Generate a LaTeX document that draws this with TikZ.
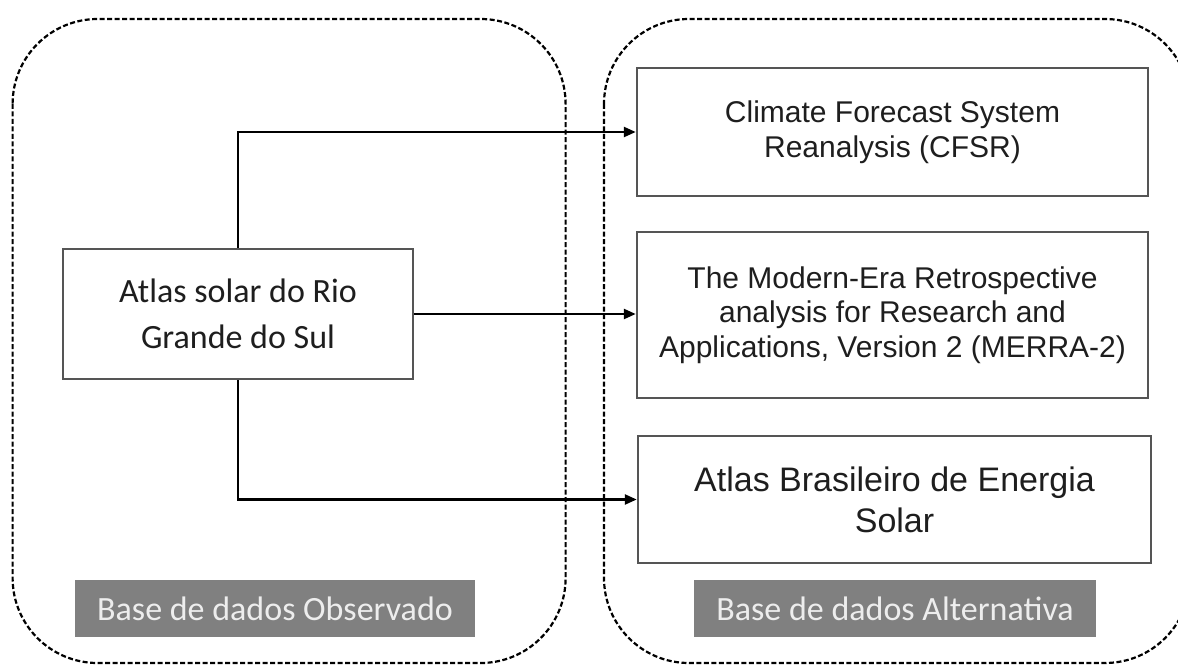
\documentclass[tikz,border=0pt]{standalone}
\usepackage{fontspec}
\setmainfont{Liberation Sans}
\newfontfamily\calib{Carlito}
\usetikzlibrary{arrows.meta}
\definecolor{boxline}{HTML}{555555}
\definecolor{lblfill}{HTML}{808080}
\definecolor{lbltext}{HTML}{EDEDED}
\definecolor{txt}{HTML}{1E1E1E}
\tikzset{
  container/.style={draw=black, line width=2.2pt, dash pattern=on 5pt off 2.5pt, rounded corners=85pt},
  srcbox/.style={draw=boxline, line width=2.5pt, minimum width=350pt, minimum height=130pt, inner sep=0pt, align=center, text=txt, font=\calib\fontsize{34}{46}\selectfont},
  dbbox/.style={draw=boxline, line width=2.5pt, minimum width=511pt, inner sep=0pt, align=center, text=txt, font=\fontsize{30}{34.5}\selectfont},
  lbl/.style={fill=lblfill, minimum width=400pt, minimum height=57pt, inner sep=0pt, text=lbltext, font=\calib\fontsize{34}{38}\selectfont},
  conn/.style={draw=black, line width=2.5pt, -{Triangle[length=12pt, width=10pt]}}
}
\begin{document}
\begin{tikzpicture}[x=1pt, y=-1pt]
\useasboundingbox (0,0) rectangle (1178,666);
\fill[white] (0,0) rectangle (1178,666);
\begin{scope}
\clip (0,0) rectangle (1178,666);
\draw[container] (12.6,19) rectangle (565.6,663);
\draw[container] (604,19) rectangle (1190,663);
\end{scope}
\node[srcbox] (src) at (238,314) {Atlas solar do Rio\\Grande do Sul};
\node[dbbox, minimum height=128pt] (cfsr) at (892.5,132) {Climate Forecast System\\Reanalysis (CFSR)};
\node[dbbox, minimum height=166pt] (merra) at (892.5,315) {The Modern-Era Retrospective\\analysis for Research and\\Applications, Version 2 (MERRA-2)};
\node[dbbox, minimum width=513pt, minimum height=127pt, font=\fontsize{34}{41}\selectfont] (abes) at (894.5,499.5) {Atlas Brasileiro de Energia\\Solar};
\node[lbl] (lobs) at (275,608.5) {Base de dados Observado};
\node[lbl, minimum width=402pt] (lalt) at (895,608.5) {Base de dados Alternativa};
\draw[conn] (src.north) |- (cfsr.west);
\draw[conn] (src.east) -- (src.east -| merra.west);
\draw[conn] (src.south) |- (abes.west);
\end{tikzpicture}
\end{document}
